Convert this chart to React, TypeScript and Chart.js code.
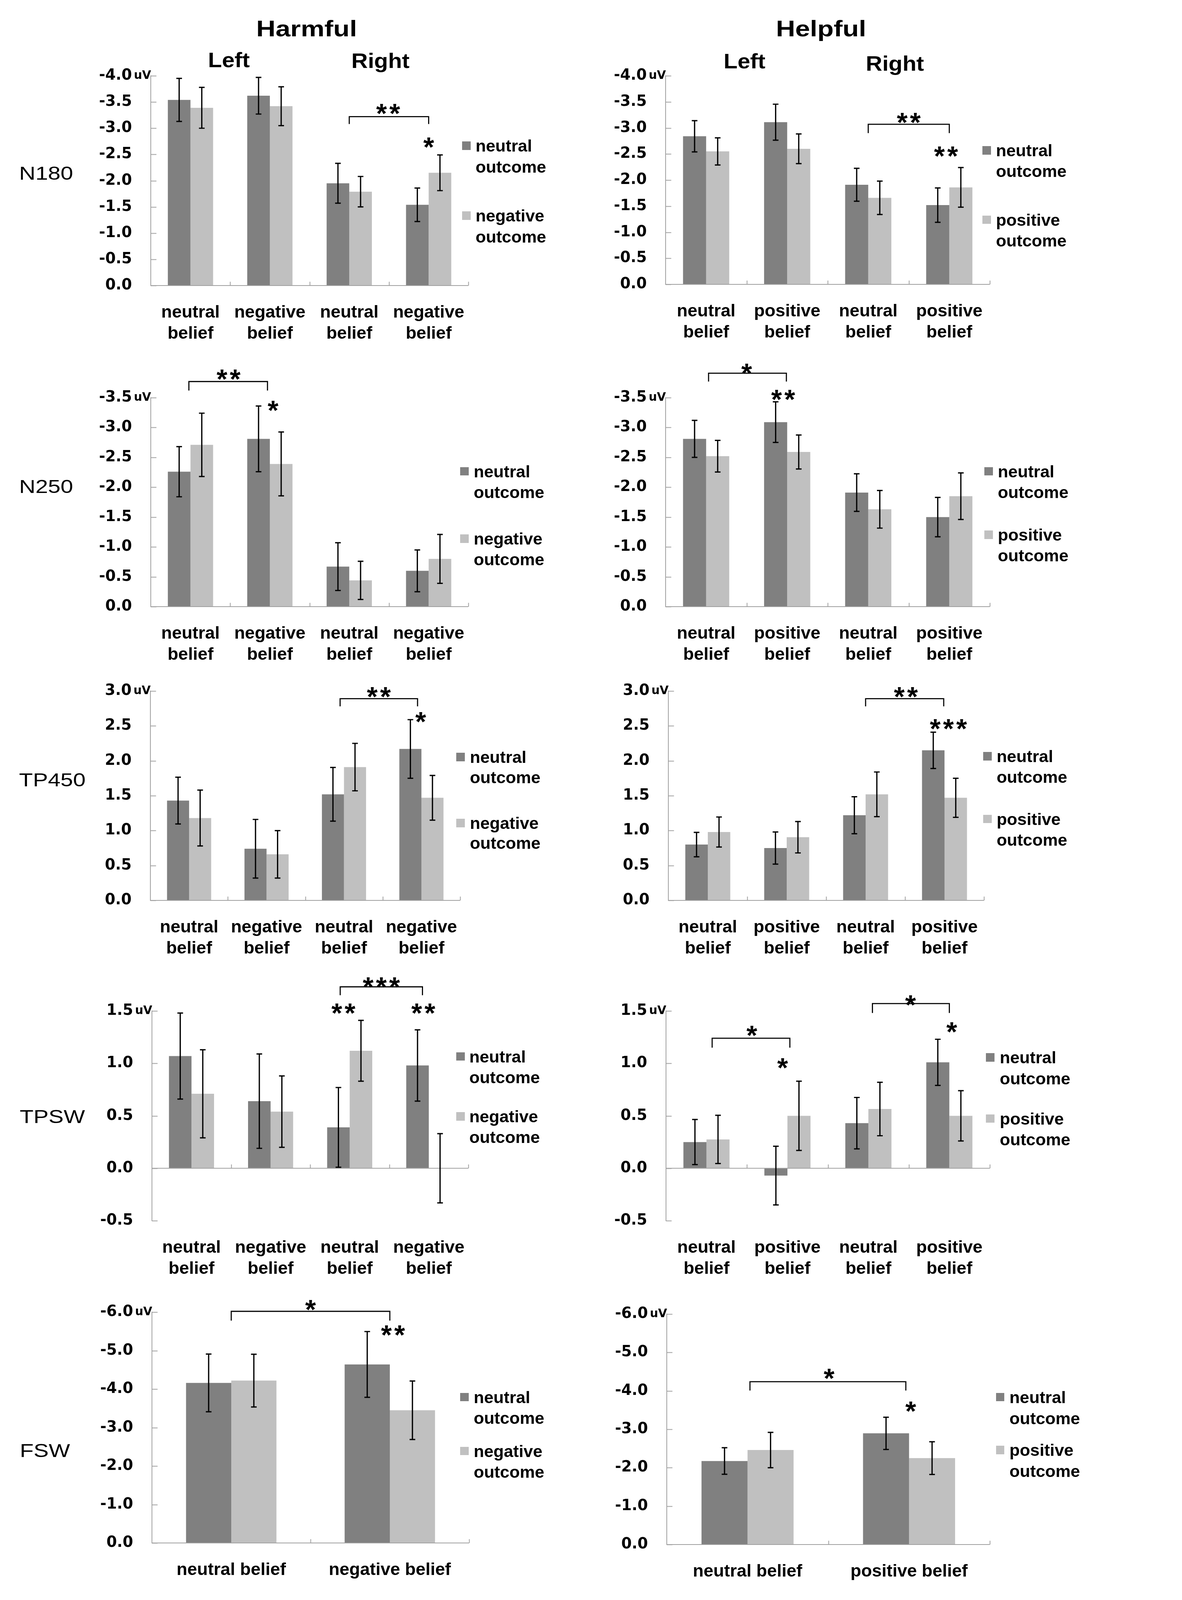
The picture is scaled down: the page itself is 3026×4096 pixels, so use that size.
import React, { useEffect, useRef } from 'react';
import { Chart, registerables } from 'chart.js';

Chart.register(...registerables);

const S = 3026 / 3768;

// ---------------- categories & series names ----------------
const CATS_HARMFUL = [['neutral', 'belief'], ['negative', 'belief'], ['neutral', 'belief'], ['negative', 'belief']];
const CATS_HELPFUL = [['neutral', 'belief'], ['positive', 'belief'], ['neutral', 'belief'], ['positive', 'belief']];
const CATS_HARMFUL_FSW = ['neutral belief', 'negative belief'];
const CATS_HELPFUL_FSW = ['neutral belief', 'positive belief'];
const SERIES_HARMFUL = ['neutral outcome', 'negative outcome'];
const SERIES_HELPFUL = ['neutral outcome', 'positive outcome'];

// ---------------- values (uV) and standard errors ----------------
const N180_HARM_NEUTRAL = [-3.54, -3.62, -1.95, -1.54];
const N180_HARM_NEUTRAL_SE = [0.41, 0.35, 0.38, 0.32];
const N180_HARM_NEGATIVE = [-3.39, -3.42, -1.79, -2.15];
const N180_HARM_NEGATIVE_SE = [0.39, 0.37, 0.29, 0.34];

const N180_HELP_NEUTRAL = [-2.84, -3.11, -1.91, -1.52];
const N180_HELP_NEUTRAL_SE = [0.3, 0.345, 0.315, 0.33];
const N180_HELP_POSITIVE = [-2.55, -2.6, -1.66, -1.86];
const N180_HELP_POSITIVE_SE = [0.26, 0.285, 0.32, 0.38];

const N250_HARM_NEUTRAL = [-2.26, -2.81, -0.67, -0.6];
const N250_HARM_NEUTRAL_SE = [0.42, 0.55, 0.4, 0.35];
const N250_HARM_NEGATIVE = [-2.71, -2.39, -0.44, -0.8];
const N250_HARM_NEGATIVE_SE = [0.53, 0.535, 0.32, 0.41];

const N250_HELP_NEUTRAL = [-2.81, -3.09, -1.91, -1.5];
const N250_HELP_NEUTRAL_SE = [0.31, 0.34, 0.315, 0.33];
const N250_HELP_POSITIVE = [-2.52, -2.59, -1.63, -1.85];
const N250_HELP_POSITIVE_SE = [0.265, 0.285, 0.315, 0.39];

const TP450_HARM_NEUTRAL = [1.43, 0.74, 1.52, 2.17];
const TP450_HARM_NEUTRAL_SE = [0.335, 0.42, 0.385, 0.42];
const TP450_HARM_NEGATIVE = [1.18, 0.66, 1.91, 1.47];
const TP450_HARM_NEGATIVE_SE = [0.4, 0.34, 0.34, 0.32];

const TP450_HELP_NEUTRAL = [0.8, 0.75, 1.22, 2.15];
const TP450_HELP_NEUTRAL_SE = [0.175, 0.23, 0.265, 0.26];
const TP450_HELP_POSITIVE = [0.98, 0.905, 1.52, 1.47];
const TP450_HELP_POSITIVE_SE = [0.215, 0.225, 0.32, 0.28];

const TPSW_HARM_NEUTRAL = [1.07, 0.64, 0.39, 0.98];
const TPSW_HARM_NEUTRAL_SE = [0.41, 0.45, 0.38, 0.34];
const TPSW_HARM_NEGATIVE = [0.71, 0.54, 1.12, 0.0];
const TPSW_HARM_NEGATIVE_SE = [0.42, 0.34, 0.29, 0.33];

const TPSW_HELP_NEUTRAL = [0.25, -0.07, 0.43, 1.01];
const TPSW_HELP_NEUTRAL_SE = [0.215, 0.28, 0.245, 0.22];
const TPSW_HELP_POSITIVE = [0.275, 0.5, 0.565, 0.5];
const TPSW_HELP_POSITIVE_SE = [0.23, 0.33, 0.255, 0.24];

const FSW_HARM_NEUTRAL = [-4.16, -4.64];
const FSW_HARM_NEUTRAL_SE = [0.75, 0.855];
const FSW_HARM_NEGATIVE = [-4.22, -3.45];
const FSW_HARM_NEGATIVE_SE = [0.685, 0.76];

const FSW_HELP_NEUTRAL = [-2.175, -2.895];
const FSW_HELP_NEUTRAL_SE = [0.345, 0.42];
const FSW_HELP_POSITIVE = [-2.46, -2.25];
const FSW_HELP_POSITIVE_SE = [0.46, 0.425];

// ---------------- significance marks (x in category units, y in uV) ----------------
const N180_HARM_BRACKETS = [{ from: 2, to: 3, y: -3.22, end: -3.08, label: '**', labelX: 2.49, labelY: -3.36 }];
const N180_HARM_STARS = [{ x: 3, y: -2.72, text: '*' }];
const N180_HELP_BRACKETS = [{ from: 2, to: 3, y: -3.07, end: -2.9, label: '**', labelX: 2.5, labelY: -3.19 }];
const N180_HELP_STARS = [{ x: 2.96, y: -2.54, text: '**' }];
const N250_HARM_BRACKETS = [{ from: -0.02, to: 0.97, y: -3.77, end: -3.62, label: '**', labelX: 0.48, labelY: -3.88 }];
const N250_HARM_STARS = [{ x: 1.04, y: -3.36, text: '*' }];
const N250_HELP_BRACKETS = [{ from: 0.03, to: 0.99, y: -3.91, end: -3.77, label: '*', labelX: 0.5, labelY: -3.98 }];
const N250_HELP_STARS = [{ x: 0.95, y: -3.54, text: '**' }];
const TP450_HARM_BRACKETS = [{ from: 1.95, to: 2.95, y: 2.89, end: 2.78, label: '**', labelX: 2.45, labelY: 2.98 }];
const TP450_HARM_STARS = [{ x: 2.99, y: 2.62, text: '*' }];
const TP450_HELP_BRACKETS = [{ from: 2.0, to: 2.99, y: 2.89, end: 2.78, label: '**', labelX: 2.51, labelY: 2.98 }];
const TP450_HELP_STARS = [{ x: 3.05, y: 2.52, text: '***' }];
const TPSW_HARM_BRACKETS = [{ from: 1.88, to: 2.92, y: 1.73, end: 1.65, label: '***', labelX: 2.4, labelY: 1.77 }];
const TPSW_HARM_STARS = [{ x: 1.92, y: 1.52, text: '**' }, { x: 2.93, y: 1.52, text: '**' }];
const TPSW_HELP_BRACKETS = [
  { from: 0.07, to: 1.03, y: 1.24, end: 1.15, label: '*', labelX: 0.56, labelY: 1.31 },
  { from: 2.05, to: 3.0, y: 1.57, end: 1.48, label: '*', labelX: 2.52, labelY: 1.6 },
];
const TPSW_HELP_STARS = [{ x: 0.94, y: 1.0, text: '*' }, { x: 3.03, y: 1.34, text: '*' }];
const FSW_HARM_BRACKETS = [{ from: 0, to: 1, y: -6.02, end: -5.78, label: '*', labelX: 0.5, labelY: -6.18 }];
const FSW_HARM_STARS = [{ x: 1.02, y: -5.52, text: '**' }];
const FSW_HELP_BRACKETS = [{ from: 0.015, to: 0.98, y: -4.24, end: -4.01, label: '*', labelX: 0.505, labelY: -4.44 }];
const FSW_HELP_STARS = [{ x: 1.01, y: -3.58, text: '*' }];

// ---------------- styles ----------------
const FONT_ARIAL = '"Liberation Sans", Arial, Helvetica, sans-serif';
const FONT_DEJAVU = '"DejaVu Sans", "Liberation Sans", sans-serif';
const DARK = '#808080';
const LIGHT = '#c0c0c0';
const AXIS = '#a0a0a0';

type Panel = {
  labels: any[];
  names: string[];
  a: number[]; aSE: number[]; b: number[]; bSE: number[];
  min: number; max: number; step: number; reverse: boolean;
  brackets: any[]; stars: any[];
  g: { axisX: number; right: number; top: number; bottom: number; extraB: number };
};

const PANELS: Panel[] = [
  { labels: CATS_HARMFUL, names: SERIES_HARMFUL, a: N180_HARM_NEUTRAL, aSE: N180_HARM_NEUTRAL_SE, b: N180_HARM_NEGATIVE, bSE: N180_HARM_NEGATIVE_SE, min: -4, max: 0, step: 0.5, reverse: true, brackets: N180_HARM_BRACKETS, stars: N180_HARM_STARS, g: { axisX: 481, right: 1493, top: 242, bottom: 910, extraB: 200 } },
  { labels: CATS_HELPFUL, names: SERIES_HELPFUL, a: N180_HELP_NEUTRAL, aSE: N180_HELP_NEUTRAL_SE, b: N180_HELP_POSITIVE, bSE: N180_HELP_POSITIVE_SE, min: -4, max: 0, step: 0.5, reverse: true, brackets: N180_HELP_BRACKETS, stars: N180_HELP_STARS, g: { axisX: 2122, right: 3155, top: 242, bottom: 906, extraB: 200 } },
  { labels: CATS_HARMFUL, names: SERIES_HARMFUL, a: N250_HARM_NEUTRAL, aSE: N250_HARM_NEUTRAL_SE, b: N250_HARM_NEGATIVE, bSE: N250_HARM_NEGATIVE_SE, min: -3.5, max: 0, step: 0.5, reverse: true, brackets: N250_HARM_BRACKETS, stars: N250_HARM_STARS, g: { axisX: 481, right: 1493, top: 1267, bottom: 1934, extraB: 200 } },
  { labels: CATS_HELPFUL, names: SERIES_HELPFUL, a: N250_HELP_NEUTRAL, aSE: N250_HELP_NEUTRAL_SE, b: N250_HELP_POSITIVE, bSE: N250_HELP_POSITIVE_SE, min: -3.5, max: 0, step: 0.5, reverse: true, brackets: N250_HELP_BRACKETS, stars: N250_HELP_STARS, g: { axisX: 2122, right: 3155, top: 1267, bottom: 1934, extraB: 200 } },
  { labels: CATS_HARMFUL, names: SERIES_HARMFUL, a: TP450_HARM_NEUTRAL, aSE: TP450_HARM_NEUTRAL_SE, b: TP450_HARM_NEGATIVE, bSE: TP450_HARM_NEGATIVE_SE, min: 0, max: 3, step: 0.5, reverse: false, brackets: TP450_HARM_BRACKETS, stars: TP450_HARM_STARS, g: { axisX: 479, right: 1467, top: 2203, bottom: 2870, extraB: 200 } },
  { labels: CATS_HELPFUL, names: SERIES_HELPFUL, a: TP450_HELP_NEUTRAL, aSE: TP450_HELP_NEUTRAL_SE, b: TP450_HELP_POSITIVE, bSE: TP450_HELP_POSITIVE_SE, min: 0, max: 3, step: 0.5, reverse: false, brackets: TP450_HELP_BRACKETS, stars: TP450_HELP_STARS, g: { axisX: 2131, right: 3137, top: 2203, bottom: 2870, extraB: 200 } },
  { labels: CATS_HARMFUL, names: SERIES_HARMFUL, a: TPSW_HARM_NEUTRAL, aSE: TPSW_HARM_NEUTRAL_SE, b: TPSW_HARM_NEGATIVE, bSE: TPSW_HARM_NEGATIVE_SE, min: -0.5, max: 1.5, step: 0.5, reverse: false, brackets: TPSW_HARM_BRACKETS, stars: TPSW_HARM_STARS, g: { axisX: 484, right: 1493, top: 3223, bottom: 3891, extraB: 200 } },
  { labels: CATS_HELPFUL, names: SERIES_HELPFUL, a: TPSW_HELP_NEUTRAL, aSE: TPSW_HELP_NEUTRAL_SE, b: TPSW_HELP_POSITIVE, bSE: TPSW_HELP_POSITIVE_SE, min: -0.5, max: 1.5, step: 0.5, reverse: false, brackets: TPSW_HELP_BRACKETS, stars: TPSW_HELP_STARS, g: { axisX: 2123, right: 3155, top: 3223, bottom: 3891, extraB: 200 } },
  { labels: CATS_HARMFUL_FSW, names: SERIES_HARMFUL, a: FSW_HARM_NEUTRAL, aSE: FSW_HARM_NEUTRAL_SE, b: FSW_HARM_NEGATIVE, bSE: FSW_HARM_NEGATIVE_SE, min: -6, max: 0, step: 1, reverse: true, brackets: FSW_HARM_BRACKETS, stars: FSW_HARM_STARS, g: { axisX: 484, right: 1495, top: 4183, bottom: 4918, extraB: 150 } },
  { labels: CATS_HELPFUL_FSW, names: SERIES_HELPFUL, a: FSW_HELP_NEUTRAL, aSE: FSW_HELP_NEUTRAL_SE, b: FSW_HELP_POSITIVE, bSE: FSW_HELP_POSITIVE_SE, min: -6, max: 0, step: 1, reverse: true, brackets: FSW_HELP_BRACKETS, stars: FSW_HELP_STARS, g: { axisX: 2125, right: 3155, top: 4189, bottom: 4923, extraB: 150 } },
];

const LEGENDS = [
  { names: SERIES_HARMFUL, sq: 1473, tx: 1516, y1: 466, y2: 689, gap: 67 },
  { names: SERIES_HELPFUL, sq: 3132, tx: 3175, y1: 481, y2: 702, gap: 66 },
  { names: SERIES_HARMFUL, sq: 1467, tx: 1510, y1: 1504, y2: 1719, gap: 66 },
  { names: SERIES_HELPFUL, sq: 3138, tx: 3181, y1: 1504, y2: 1706, gap: 66 },
  { names: SERIES_HARMFUL, sq: 1455, tx: 1498, y1: 2415, y2: 2625, gap: 64 },
  { names: SERIES_HELPFUL, sq: 3134, tx: 3177, y1: 2412, y2: 2612, gap: 66 },
  { names: SERIES_HARMFUL, sq: 1455, tx: 1496, y1: 3369, y2: 3560, gap: 66 },
  { names: SERIES_HELPFUL, sq: 3143, tx: 3187, y1: 3372, y2: 3567, gap: 67 },
  { names: SERIES_HARMFUL, sq: 1467, tx: 1510, y1: 4455, y2: 4627, gap: 66 },
  { names: SERIES_HELPFUL, sq: 3175, tx: 3218, y1: 4455, y2: 4624, gap: 67 },
];

const ROW_LABELS = [
  { text: 'N180', x: 147, y: 552 },
  { text: 'N250', x: 147, y: 1550 },
  { text: 'TP450', x: 167, y: 2486 },
  { text: 'TPSW', x: 167, y: 3559 },
  { text: 'FSW', x: 143, y: 4623 },
];

const HEADINGS = [
  { text: 'Harmful', x: 977, y: 92, size: 72, sx: 1.18 },
  { text: 'Helpful', x: 2617, y: 92, size: 72, sx: 1.18 },
  { text: 'Left', x: 730, y: 190, size: 66, sx: 1.1 },
  { text: 'Right', x: 1213, y: 193, size: 66, sx: 1.1 },
  { text: 'Left', x: 2373, y: 194, size: 66, sx: 1.1 },
  { text: 'Right', x: 2853, y: 202, size: 66, sx: 1.1 },
];

// ---------------- plugin: baseline, ticks, error bars, brackets, stars, unit ----------------
const annotPlugin = {
  id: 'annot',
  afterDatasetsDraw(chart: any, _args: any, opts: any) {
    const ctx = chart.ctx;
    const xs = chart.scales.x;
    const ys = chart.scales.y;
    const ca = chart.chartArea;
    const p0 = xs.getPixelForValue(0);
    const p1 = xs.getPixelForValue(1);
    const px = (v: number) => p0 + v * (p1 - p0);
    ctx.save();
    // baseline at zero, inward category dividers, inward y tick marks
    const y0 = ys.getPixelForValue(0);
    ctx.strokeStyle = AXIS;
    ctx.lineWidth = 2;
    ctx.beginPath();
    ctx.moveTo(ca.left, y0);
    ctx.lineTo(ca.right, y0);
    const n = chart.data.labels.length;
    const cw = (ca.right - ca.left) / n;
    for (let i = 1; i <= n; i++) {
      const x = Math.round(ca.left + i * cw) + 0.5;
      ctx.moveTo(x, y0);
      ctx.lineTo(x, y0 - 12 * S);
    }
    ys.ticks.forEach((t: any) => {
      const y = Math.round(ys.getPixelForValue(t.value)) + 0.5;
      ctx.moveTo(ca.left, y);
      ctx.lineTo(ca.left + 18 * S, y);
    });
    ctx.stroke();
    // error bars
    ctx.strokeStyle = '#000';
    ctx.lineWidth = 4 * S;
    chart.data.datasets.forEach((ds: any, di: number) => {
      const meta = chart.getDatasetMeta(di);
      meta.data.forEach((bar: any, j: number) => {
        const v = ds.data[j];
        const e = ds.errors[j];
        const ya = ys.getPixelForValue(v + e);
        const yb = ys.getPixelForValue(v - e);
        const cap = 9 * S;
        ctx.beginPath();
        ctx.moveTo(bar.x, ya);
        ctx.lineTo(bar.x, yb);
        ctx.moveTo(bar.x - cap, ya);
        ctx.lineTo(bar.x + cap, ya);
        ctx.moveTo(bar.x - cap, yb);
        ctx.lineTo(bar.x + cap, yb);
        ctx.stroke();
      });
    });
    // stars helper
    const fs = 88 * S;
    ctx.font = `bold ${fs}px ${FONT_ARIAL}`;
    const m = ctx.measureText('*');
    const mid = (m.actualBoundingBoxAscent - m.actualBoundingBoxDescent) / 2;
    const drawStars = (cx: number, cy: number, text: string) => {
      const k = text.length;
      const sp = 42 * S;
      ctx.fillStyle = '#000';
      ctx.textAlign = 'center';
      ctx.textBaseline = 'alphabetic';
      for (let i = 0; i < k; i++) {
        const x = cx + (i - (k - 1) / 2) * sp;
        ctx.fillText('*', x, cy + mid);
      }
    };
    // brackets
    ctx.lineWidth = 3.5 * S;
    ctx.strokeStyle = '#000';
    (opts.brackets || []).forEach((b: any) => {
      const xa = px(b.from);
      const xb = px(b.to);
      const yt = ys.getPixelForValue(b.y);
      const ye = ys.getPixelForValue(b.end);
      ctx.beginPath();
      ctx.moveTo(xa, ye);
      ctx.lineTo(xa, yt);
      ctx.lineTo(xb, yt);
      ctx.lineTo(xb, ye);
      ctx.stroke();
      drawStars(px(b.labelX), ys.getPixelForValue(b.labelY), b.label);
    });
    (opts.stars || []).forEach((s: any) => {
      drawStars(px(s.x), ys.getPixelForValue(s.y), s.text);
    });
    // unit label next to top tick
    ctx.font = `bold ${37 * S}px ${FONT_DEJAVU}`;
    ctx.fillStyle = '#000';
    ctx.textAlign = 'left';
    ctx.textBaseline = 'middle';
    ctx.fillText('uV', ca.left - 54 * S, ca.top);
    ctx.restore();
  },
};

function PanelChart({ p }: { p: Panel }) {
  const ref = useRef<HTMLCanvasElement>(null);
  const g = p.g;
  const cl = Math.round((g.axisX - 230) * S);
  const ct = Math.round((g.top - 200) * S);
  const cr = Math.round((g.right + 80) * S);
  const cb = Math.round((g.bottom + g.extraB) * S);
  const W = cr - cl;
  const H = cb - ct;
  const yAxisW = Math.round(g.axisX * S) - cl;
  const padTop = Math.round(g.top * S) - ct;
  const padRight = cr - Math.round(g.right * S);
  const xAxisH = cb - Math.round(g.bottom * S);

  useEffect(() => {
    const canvas = ref.current!;
    const chart = new Chart(canvas, {
      type: 'bar',
      data: {
        labels: p.labels,
        datasets: [
          { label: p.names[0], data: p.a, errors: p.aSE, backgroundColor: DARK, borderWidth: 0, categoryPercentage: 0.57, barPercentage: 1.0 } as any,
          { label: p.names[1], data: p.b, errors: p.bSE, backgroundColor: LIGHT, borderWidth: 0, categoryPercentage: 0.57, barPercentage: 1.0 } as any,
        ],
      },
      options: {
        responsive: false,
        maintainAspectRatio: false,
        devicePixelRatio: 1,
        animation: false,
        layout: { padding: { left: 0, right: padRight, top: padTop, bottom: 0 } },
        plugins: {
          legend: { display: false },
          tooltip: { enabled: false },
          annot: { brackets: p.brackets, stars: p.stars },
        } as any,
        scales: {
          x: {
            grid: { display: false, drawTicks: false },
            border: { display: false },
            ticks: {
              color: '#000',
              font: { family: FONT_ARIAL, weight: 'bold', size: 56 * S, lineHeight: 1.2 },
              padding: 53 * S,
              autoSkip: false,
              maxRotation: 0,
              minRotation: 0,
            },
            afterFit: (s: any) => { s.height = xAxisH; },
          },
          y: {
            min: p.min,
            max: p.max,
            reverse: p.reverse,
            grid: { display: false, drawTicks: false },
            border: { display: true, color: AXIS, width: 2 },
            ticks: {
              stepSize: p.step,
              color: '#000',
              font: { family: FONT_DEJAVU, weight: 'bold', size: 48 * S },
              padding: 60 * S,
              callback: (v: any) => Number(v).toFixed(1),
            },
            afterFit: (s: any) => { s.width = yAxisW; },
          },
        } as any,
      },
      plugins: [annotPlugin as any],
    });
    return () => chart.destroy();
  }, []);

  return (
    <canvas
      ref={ref}
      width={W}
      height={H}
      style={{ position: 'absolute', left: cl, top: ct, width: W, height: H }}
    />
  );
}

function Txt({ x, y, text, size, bold, align, sx, family }: any) {
  const center = align !== 'left';
  return (
    <div
      style={{
        position: 'absolute',
        left: x * S,
        top: y * S,
        fontFamily: family || FONT_ARIAL,
        fontWeight: bold ? 'bold' : 'normal',
        fontSize: size * S,
        lineHeight: 1,
        whiteSpace: 'nowrap',
        color: '#000',
        transformOrigin: center ? 'center center' : 'left center',
        transform: `translate(${center ? '-50%' : '0'}, -50%) scaleX(${sx || 1})`,
      }}
    >
      {text}
    </div>
  );
}

function Legend({ l }: any) {
  const items = [
    { color: DARK, y: l.y1, words: l.names[0].split(' ') },
    { color: LIGHT, y: l.y2, words: l.names[1].split(' ') },
  ];
  return (
    <>
      {items.map((it, i) => (
        <React.Fragment key={i}>
          <div
            style={{
              position: 'absolute',
              left: l.sq * S,
              top: (it.y - 15) * S,
              width: 27 * S,
              height: 27 * S,
              background: it.color,
            }}
          />
          <Txt x={l.tx} y={it.y} text={it.words[0]} size={54} bold align="left" />
          <Txt x={l.tx} y={it.y + l.gap} text={it.words[1]} size={54} bold align="left" />
        </React.Fragment>
      ))}
    </>
  );
}

export default function App() {
  return (
    <div
      style={{
        position: 'absolute',
        left: 0,
        top: 0,
        width: 3026,
        height: 4096,
        background: '#fff',
        overflow: 'hidden',
      }}
    >
      {HEADINGS.map((h, i) => (
        <Txt key={'h' + i} x={h.x} y={h.y} text={h.text} size={h.size} bold sx={h.sx} />
      ))}
      {ROW_LABELS.map((r, i) => (
        <Txt key={'r' + i} x={r.x} y={r.y} text={r.text} size={61} sx={1.18} />
      ))}
      {PANELS.map((p, i) => (
        <PanelChart key={'p' + i} p={p} />
      ))}
      {LEGENDS.map((l, i) => (
        <Legend key={'l' + i} l={l} />
      ))}
    </div>
  );
}
